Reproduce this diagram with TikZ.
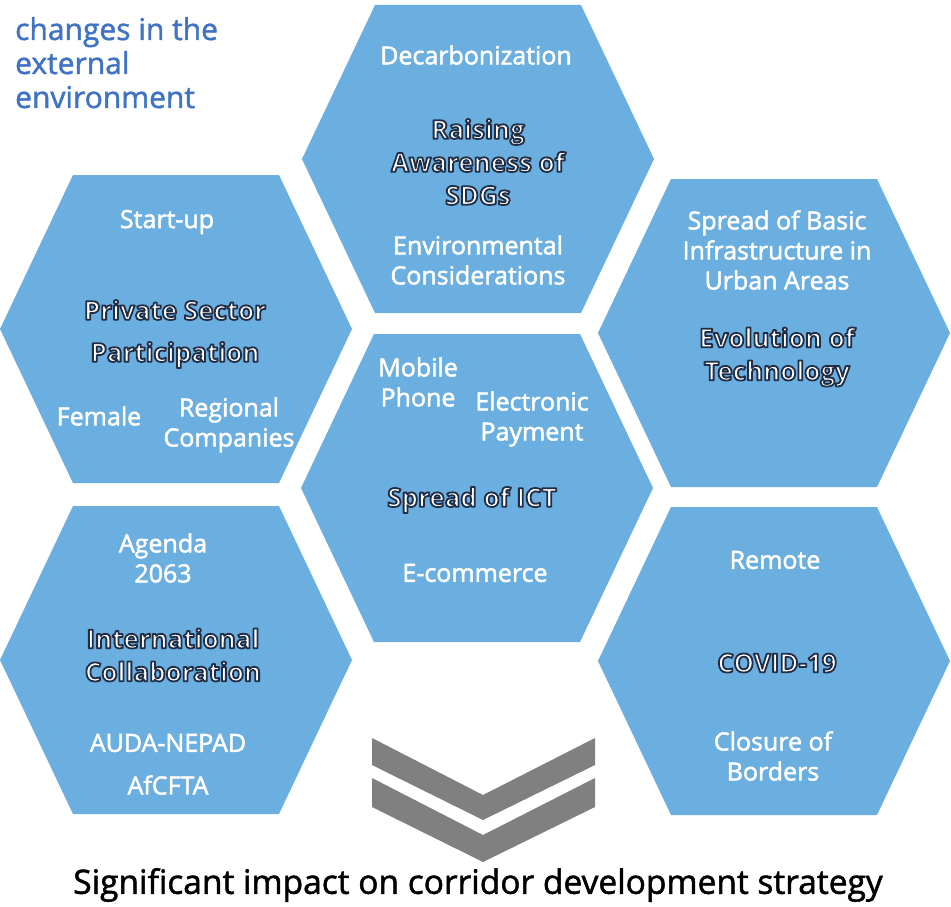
\documentclass[tikz,border=0pt]{standalone}
\usepackage{fontspec}
\setmainfont{Open Sans}
\newfontfamily\semifont{Open Sans}[FakeBold=2]
\newfontfamily\titlefont{Open Sans}[FakeBold=1.5]
\definecolor{hexblue}{RGB}{107,174,224}
\definecolor{titleblue}{RGB}{64,115,196}
\definecolor{chevgray}{RGB}{128,128,128}
\newcommand\startoutline{\special{pdf:literal direct 2 Tr 1.8 w 1 J 1 j 0.13 0.18 0.27 RG}}
\newcommand\stopoutline{\special{pdf:literal direct 0 Tr 1 w}}
\tikzset{
  hexagon/.pic={\fill[hexblue] (-176,0) -- (-103,-154) -- (103,-154) -- (176,0) -- (103,154) -- (-103,154) -- cycle;},
  sublab/.style={text=white, inner sep=0pt, align=center, font=\semifont\fontsize{25}{30}\selectfont},
  mainlab/.style={text=white, inner sep=0pt, align=center, font=\bfseries\fontsize{26}{33}\selectfont},
  titlelab/.style={text=titleblue, inner sep=0pt, align=left, anchor=north west, font=\titlefont\fontsize{30}{34}\selectfont},
  chevron/.style={fill=chevgray, draw=none}
}
\begin{document}
\begin{tikzpicture}[x=1pt,y=-1pt]
\path[use as bounding box, fill=white] (0,0) rectangle (951,907);
% hexagons
\pic at (478,159) {hexagon};
\pic at (176,329) {hexagon};
\pic at (774,333) {hexagon};
\pic at (477,488) {hexagon};
\pic at (176,660) {hexagon};
\pic at (774,661) {hexagon};
% title
\node[titlelab] (title) at (15,17) {changes in the\\external\\environment};
% top hexagon
\node[sublab] (decarb) at (476,55) {Decarbonization};
\node[mainlab] (sdg) at (478,162) {\startoutline Raising\\Awareness of\\SDGs\stopoutline};
\node[sublab] (env) at (478,260) {Environmental\\Considerations};
% left upper
\node[sublab] (startup) at (167,222) {Start-up};
\node[mainlab] (ps1) at (175,310) {\startoutline Private Sector\stopoutline};
\node[mainlab] (ps2) at (175,355) {\startoutline Participation\stopoutline};
\node[sublab] (female) at (99,416) {Female};
\node[sublab] (regional) at (229,425) {Regional\\Companies};
% right upper
\node[sublab] (infra) at (777,250) {Spread of Basic\\Infrastructure in\\Urban Areas};
\node[mainlab] (evo) at (777,357) {\startoutline Evolution of\\Technology\stopoutline};
% centre
\node[sublab] (mobile) at (418,382) {Mobile\\Phone};
\node[sublab] (epay) at (532,419) {Electronic\\Payment};
\node[mainlab] (ict) at (472,500) {\startoutline Spread of ICT\stopoutline};
\node[sublab] (ecom) at (475,573) {E-commerce};
% left lower
\node[sublab] (agenda) at (163,558) {Agenda\\2063};
\node[mainlab] (intl) at (173,655) {\startoutline International\\Collaboration\stopoutline};
\node[sublab] (auda) at (168,743) {AUDA-NEPAD};
\node[sublab] (afcfta) at (168,785) {AfCFTA};
% right lower
\node[sublab] (remote) at (775,560) {Remote};
\node[mainlab] (covid) at (777,663) {\startoutline COVID-19\stopoutline};
\node[sublab] (closure) at (773,756) {Closure of\\Borders};
% chevrons
\fill[chevron] (372,738) -- (483,795) -- (595,738) -- (595,765) -- (483,820) -- (372,765) -- cycle;
\fill[chevron] (372,778) -- (483,835) -- (595,778) -- (595,807) -- (483,862) -- (372,807) -- cycle;
% bottom text
\node[inner sep=0pt, font=\titlefont\fontsize{33.5}{40}\selectfont] (impact) at (478,885) {Significant impact on corridor development strategy};
\end{tikzpicture}
\end{document}
